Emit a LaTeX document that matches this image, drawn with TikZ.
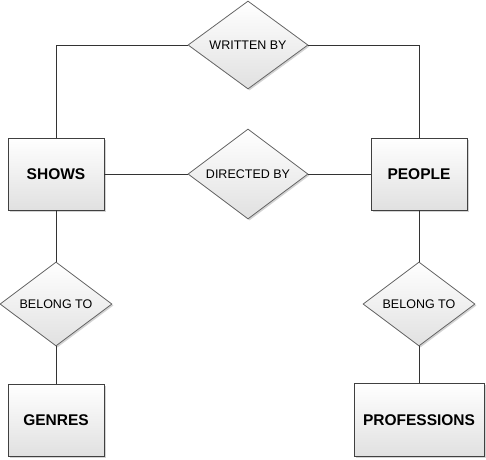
\documentclass[tikz,border=0pt]{standalone}
\usepackage{fontspec}
\setmainfont{Liberation Sans}
\usetikzlibrary{shapes.geometric,shadows}
\begin{document}
\begin{tikzpicture}[x=1pt,y=-1pt,
  base/.style={draw=black!75, line width=0.8pt, top color=white, bottom color=black!12,
    drop shadow={shadow xshift=1.5pt, shadow yshift=-1.5pt, opacity=0.35, fill=black!50}},
  entity/.style={base, rectangle, minimum width=96pt, minimum height=72pt, inner sep=0pt,
    font=\fontsize{15.5}{18}\selectfont\bfseries},
  relation/.style={base, diamond, aspect=1.36, minimum width=120pt, minimum height=88pt, inner sep=0pt,
    draw=black!60, font=\fontsize{12.5}{15}\selectfont},
  conn/.style={draw=black!80, line width=0.8pt}]
\useasboundingbox (0,0) rectangle (486,459);
\node[entity] (shows) at (56,174) {SHOWS};
\node[entity] (people) at (419,174) {PEOPLE};
\node[entity] (genres) at (56,420) {GENRES};
\node[entity, minimum width=130pt, minimum height=73pt] (prof) at (419,420) {PROFESSIONS};
\node[relation] (written) at (248,45) {WRITTEN BY};
\node[relation, minimum height=90pt] (directed) at (248,174) {DIRECTED BY};
\node[relation, minimum width=112pt, minimum height=84pt] (bel1) at (56,304) {BELONG TO};
\node[relation, minimum width=112pt, minimum height=84pt] (bel2) at (419,304) {BELONG TO};
\draw[conn] (shows.north) |- (written.west);
\draw[conn] (written.east) -| (people.north);
\draw[conn] (shows.east) -- (directed.west);
\draw[conn] (directed.east) -- (people.west);
\draw[conn] (shows.south) -- (bel1.north);
\draw[conn] (bel1.south) -- (genres.north);
\draw[conn] (people.south) -- (bel2.north);
\draw[conn] (bel2.south) -- (prof.north);
\end{tikzpicture}
\end{document}
